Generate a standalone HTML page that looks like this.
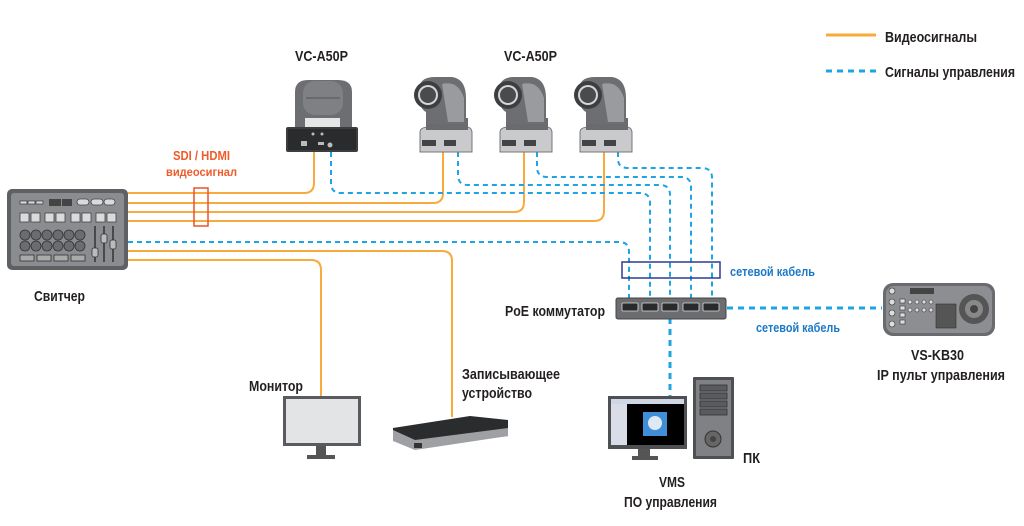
<!DOCTYPE html>
<html><head><meta charset="utf-8"><style>
html,body{margin:0;padding:0;background:#fff;}
svg{display:block;}
text{font-family:"Liberation Sans","DejaVu Sans",sans-serif;font-weight:bold;}
</style></head><body>
<svg width="1024" height="526" viewBox="0 0 1024 526" xmlns="http://www.w3.org/2000/svg">
<defs>
<g id="cam">
  <path d="M12 152 L12 132 Q12 127 22 127 L58 127 Q64 127 64 133 L64 152 Z" fill="#c9cacc" stroke="#777" stroke-width="1"/>
  <rect x="14" y="140" width="14" height="6" fill="#444"/>
  <rect x="36" y="140" width="12" height="6" fill="#444"/>
  <rect x="18" y="118" width="42" height="12" fill="#6a6b6e"/>
  <path d="M10 90 Q12 77 26 77 L44 77 Q58 79 58 98 L58 124 L18 124 L18 112 Q10 108 10 90 Z" fill="#6d6e71"/>
  <path d="M34 84 Q50 80 56 98 L56 122 L40 122 Z" fill="#9a9b9e"/>
  <circle cx="20" cy="95" r="14" fill="#3d3e40"/>
  <circle cx="20" cy="95" r="10" fill="#d5d6d8"/>
  <circle cx="20" cy="95" r="8" fill="#4a4b4d"/>
</g>
</defs>

<g fill="none" stroke="#f8aa3c" stroke-width="2">
  <path d="M128 193 H304 Q314 193 314 183 V152"/>
  <path d="M128 203 H433 Q443 203 443 193 V152"/>
  <path d="M128 212 H514 Q524 212 524 202 V152"/>
  <path d="M128 221 H594 Q604 221 604 211 V152"/>
  <path d="M128 251 H442 Q452 251 452 261 V417"/>
  <path d="M128 260 H311 Q321 260 321 270 V397"/>
  <path d="M826 35 H876" stroke-width="3"/>
</g>

<g fill="none" stroke="#1ea3e4" stroke-width="2" stroke-dasharray="5,4">
  <path d="M331 152 V183 Q331 193 341 193 H640 Q650 193 650 203 V300"/>
  <path d="M458 152 V175 Q458 185 468 185 H660 Q670 185 670 195 V300"/>
  <path d="M537 152 V167 Q537 177 547 177 H681 Q691 177 691 187 V300"/>
  <path d="M618 152 V159 Q618 168 628 168 H702 Q712 168 712 178 V300"/>
  <path d="M128 242 H619 Q629 242 629 252 V300"/>
</g>
<g fill="none" stroke="#1ea3e4" stroke-width="3" stroke-dasharray="6,5">
  <path d="M670 318 V396"/>
  <path d="M727 308 H882"/>
  <path d="M826 71 H876"/>
</g>

<rect x="194" y="188" width="14" height="38" fill="none" stroke="#e8542a" stroke-width="1.5"/>
<rect x="622" y="262" width="98" height="16" fill="none" stroke="#2e3a96" stroke-width="1.5"/>

<rect x="7" y="189" width="121" height="81" rx="5" fill="#5f6063"/>
<rect x="11" y="193" width="113" height="73" rx="3" fill="#8b8c8f"/>
<g fill="#d9dadc" stroke="#444" stroke-width="0.8">
  <rect x="20" y="201" width="7" height="3"/><rect x="28" y="201" width="7" height="3"/><rect x="36" y="201" width="7" height="3"/>
  <rect x="77" y="199" width="12" height="6" rx="3"/><rect x="91" y="199" width="12" height="6" rx="3"/><rect x="104" y="199" width="11" height="6" rx="3"/>
  <rect x="20" y="213" width="9" height="9"/><rect x="31" y="213" width="9" height="9"/><rect x="45" y="213" width="9" height="9"/><rect x="56" y="213" width="9" height="9"/><rect x="71" y="213" width="9" height="9"/><rect x="82" y="213" width="9" height="9"/><rect x="96" y="213" width="9" height="9"/><rect x="107" y="213" width="9" height="9"/>
</g>
<rect x="49" y="199" width="12" height="7" fill="#444"/><rect x="62" y="199" width="10" height="7" fill="#444"/>
<g fill="#6b6c6f" stroke="#333" stroke-width="0.8">
  <circle cx="25" cy="235" r="5"/><circle cx="36" cy="235" r="5"/><circle cx="47" cy="235" r="5"/><circle cx="58" cy="235" r="5"/><circle cx="69" cy="235" r="5"/><circle cx="80" cy="235" r="5"/>
  <circle cx="25" cy="246" r="5"/><circle cx="36" cy="246" r="5"/><circle cx="47" cy="246" r="5"/><circle cx="58" cy="246" r="5"/><circle cx="69" cy="246" r="5"/><circle cx="80" cy="246" r="5"/>
</g>
<g fill="#aaa" stroke="#333" stroke-width="0.8">
  <rect x="20" y="255" width="14" height="6"/><rect x="37" y="255" width="14" height="6"/><rect x="54" y="255" width="14" height="6"/><rect x="71" y="255" width="14" height="6"/>
</g>
<g stroke="#333" stroke-width="1.5"><line x1="95" y1="226" x2="95" y2="262"/><line x1="104" y1="226" x2="104" y2="262"/><line x1="113" y1="226" x2="113" y2="262"/></g>
<g fill="#bbb" stroke="#333" stroke-width="0.8"><rect x="92" y="248" width="6" height="9" rx="2"/><rect x="101" y="234" width="6" height="9" rx="2"/><rect x="110" y="240" width="6" height="9" rx="2"/></g>

<path d="M295 128 L295 92 Q295 80 308 80 L338 80 Q352 80 352 92 L352 128 Z" fill="#6d6e71"/>
<rect x="303" y="81" width="40" height="34" rx="12" fill="#7f8083"/>
<line x1="306" y1="98" x2="340" y2="98" stroke="#555" stroke-width="1"/>
<path d="M305 118 H340 V128 H305 Z" fill="#e6e6e6"/>
<rect x="286" y="127" width="72" height="25" rx="2" fill="#3c3d3f"/>
<rect x="288" y="129" width="68" height="21" fill="#2a2b2d"/>
<g fill="#bbb"><rect x="301" y="141" width="6" height="5"/><rect x="318" y="142" width="6" height="3"/><circle cx="330" cy="145" r="2.5"/><circle cx="313" cy="134" r="1.5"/><circle cx="322" cy="134" r="1.5"/></g>

<use href="#cam" x="408"/>
<use href="#cam" x="488"/>
<use href="#cam" x="568"/>

<rect x="616" y="298" width="110" height="21" rx="2" fill="#6c6d70" stroke="#444"/>
<g fill="#2a2a2c" stroke="#ddd" stroke-width="0.8">
  <rect x="622" y="303" width="16" height="8" rx="1"/><rect x="642" y="303" width="16" height="8" rx="1"/><rect x="662" y="303" width="16" height="8" rx="1"/><rect x="683" y="303" width="16" height="8" rx="1"/><rect x="703" y="303" width="16" height="8" rx="1"/>
</g>

<rect x="883" y="283" width="112" height="53" rx="10" fill="#6a6b6e"/>
<rect x="886" y="286" width="106" height="47" rx="8" fill="#8d8e91"/>
<circle cx="974" cy="309" r="15" fill="#555"/><circle cx="974" cy="309" r="9" fill="#888"/><circle cx="974" cy="309" r="4" fill="#444"/>
<rect x="910" y="288" width="24" height="6" fill="#444"/>
<g fill="#ddd" stroke="#333" stroke-width="0.6">
  <circle cx="892" cy="291" r="3"/><circle cx="892" cy="302" r="3"/><circle cx="892" cy="313" r="3"/><circle cx="892" cy="324" r="3"/>
  <rect x="900" y="299" width="5" height="4"/><rect x="900" y="306" width="5" height="4"/><rect x="900" y="313" width="5" height="4"/><rect x="900" y="320" width="5" height="4"/>
  <circle cx="910" cy="302" r="2"/><circle cx="917" cy="302" r="2"/><circle cx="924" cy="302" r="2"/><circle cx="931" cy="302" r="2"/>
  <circle cx="910" cy="310" r="2"/><circle cx="917" cy="310" r="2"/><circle cx="924" cy="310" r="2"/><circle cx="931" cy="310" r="2"/>
  <rect x="936" y="304" width="20" height="24" fill="#555"/>
</g>

<rect x="283" y="396" width="78" height="50" fill="#5a5b5e"/>
<rect x="286" y="399" width="72" height="44" fill="#e3e4e6"/>
<rect x="316" y="446" width="10" height="9" fill="#555"/>
<rect x="307" y="455" width="28" height="4" fill="#555"/>

<path d="M393 428 L470 416 L508 420 L508 436 L415 448 L393 440 Z" fill="#2b2c2e"/>
<path d="M393 430 L415 440 L508 428 L508 436 L415 450 L393 441 Z" fill="#9fa0a3"/>
<rect x="414" y="443" width="8" height="5" fill="#333"/>

<rect x="608" y="396" width="79" height="53" fill="#4f5053"/>
<rect x="611" y="399" width="73" height="46" fill="#000"/>
<rect x="611" y="399" width="73" height="5" fill="#cfd6e4"/>
<rect x="611" y="404" width="16" height="41" fill="#d8dde8"/>
<rect x="643" y="412" width="24" height="24" fill="#3f8fd8"/>
<circle cx="655" cy="423" r="7" fill="#dfe9f5"/>
<rect x="638" y="449" width="12" height="7" fill="#555"/>
<rect x="632" y="456" width="26" height="4" fill="#555"/>
<rect x="693" y="377" width="41" height="82" rx="1" fill="#4f5053"/>
<rect x="696" y="380" width="35" height="76" fill="#808184"/>
<g fill="#5a5b5e" stroke="#333" stroke-width="0.8"><rect x="700" y="385" width="27" height="6"/><rect x="700" y="393" width="27" height="6"/><rect x="700" y="401" width="27" height="6"/><rect x="700" y="409" width="27" height="6"/></g>
<circle cx="713" cy="439" r="8" fill="#666" stroke="#333"/><circle cx="713" cy="439" r="3" fill="#444"/>

<g fill="#231f20" font-size="15">
  <text x="885" y="42" textLength="92" lengthAdjust="spacingAndGlyphs">Видеосигналы</text>
  <text x="885" y="77" textLength="130" lengthAdjust="spacingAndGlyphs">Сигналы управления</text>
  <text x="295" y="61" textLength="53" lengthAdjust="spacingAndGlyphs">VC-A50P</text>
  <text x="504" y="61" textLength="53" lengthAdjust="spacingAndGlyphs">VC-A50P</text>
  <text x="34" y="301" textLength="51" lengthAdjust="spacingAndGlyphs">Свитчер</text>
  <text x="505" y="316" textLength="100" lengthAdjust="spacingAndGlyphs">PoE коммутатор</text>
  <text x="911" y="360" textLength="53" lengthAdjust="spacingAndGlyphs">VS-KB30</text>
  <text x="877" y="380" textLength="128" lengthAdjust="spacingAndGlyphs">IP пульт управления</text>
  <text x="249" y="391" textLength="54" lengthAdjust="spacingAndGlyphs">Монитор</text>
  <text x="462" y="379" textLength="98" lengthAdjust="spacingAndGlyphs">Записывающее</text>
  <text x="462" y="398" textLength="70" lengthAdjust="spacingAndGlyphs">устройство</text>
  <text x="743" y="463" textLength="17" lengthAdjust="spacingAndGlyphs">ПК</text>
  <text x="659" y="487" textLength="26" lengthAdjust="spacingAndGlyphs">VMS</text>
  <text x="624" y="507" textLength="93" lengthAdjust="spacingAndGlyphs">ПО управления</text>
</g>
<g font-size="13">
  <text x="173" y="160" fill="#ef5b2a" textLength="57" lengthAdjust="spacingAndGlyphs">SDI / HDMI</text>
  <text x="166" y="176" fill="#ef5b2a" font-size="12" textLength="71" lengthAdjust="spacingAndGlyphs">видеосигнал</text>
  <text x="730" y="276" fill="#1b79c8" textLength="85" lengthAdjust="spacingAndGlyphs">сетевой кабель</text>
  <text x="756" y="332" fill="#1b79c8" textLength="84" lengthAdjust="spacingAndGlyphs">сетевой кабель</text>
</g>
</svg>
</body></html>
